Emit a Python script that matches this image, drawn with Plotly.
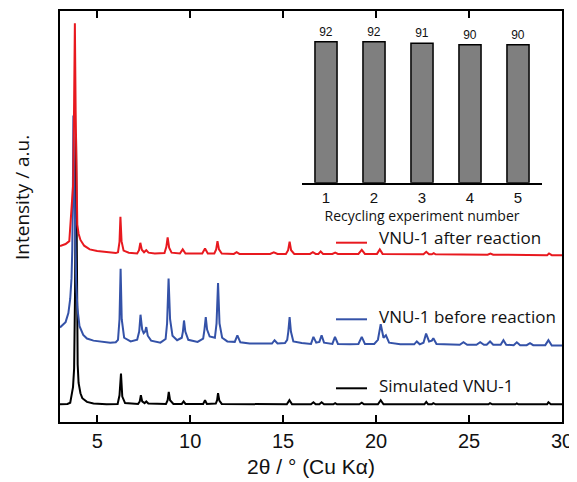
import plotly.graph_objects as go

# ---------------- data ----------------
two_theta_ticks = [5, 10, 15, 20, 25, 30]

red_x = [3.0, 3.3, 3.5, 3.56, 3.61, 3.66, 3.71, 3.76, 3.80, 3.84, 3.88, 3.93, 4.0, 4.1, 4.3, 4.6, 5.0, 5.5, 6.0,
         6.12, 6.2, 6.25, 6.31, 6.42, 6.7, 7.15, 7.25, 7.32, 7.4, 7.52, 7.64, 7.76, 8.1, 8.62, 8.72, 8.79, 8.87,
         9.0, 9.45, 9.6, 9.75, 10.65, 10.8, 10.95, 11.3, 11.4, 11.47, 11.55, 11.7, 12.35, 12.5, 12.65, 14.3, 14.5,
         14.7, 15.15, 15.27, 15.35, 15.43, 15.6, 16.45, 16.6, 16.75, 16.9, 17.02, 17.15, 17.65, 17.8, 17.95, 19.05,
         19.23, 19.4, 20.05, 20.2, 20.35, 22.55, 22.7, 22.85, 23.0, 23.1, 23.2, 26.0, 26.15, 26.3, 29.2, 29.3,
         29.45, 30.0]
red_y = [42.8, 43.3, 44.0, 47.5, 52.5, 54.5, 58.0, 78.0, 97.0, 76.0, 56.0, 48.0, 45.8, 44.3, 42.9, 42.0, 41.6,
         41.3, 41.1, 41.3, 43.8, 49.9, 44.0, 41.7, 41.2, 41.0, 41.8, 43.6, 41.9, 41.3, 41.8, 41.2, 41.0, 41.1,
         42.6, 44.9, 42.4, 41.2, 41.0, 42.0, 41.0, 41.0, 42.2, 41.0, 41.0, 42.0, 44.0, 42.0, 41.0, 40.9, 41.3,
         40.9, 40.9, 41.3, 40.9, 40.9, 41.8, 43.9, 41.8, 40.9, 40.9, 41.3, 40.9, 40.9, 41.5, 40.9, 40.9, 41.2,
         40.9, 40.9, 41.9, 40.9, 40.9, 42.0, 40.9, 40.8, 41.4, 40.8, 40.8, 41.1, 40.8, 40.7, 41.0, 40.7, 40.6,
         41.0, 40.6, 40.6]

blue_x = [3.0, 3.3, 3.45, 3.55, 3.62, 3.66, 3.69, 3.72, 3.76, 3.82, 3.87, 3.93, 4.05, 4.25, 4.45, 4.8, 5.2, 5.7,
          6.0, 6.12, 6.2, 6.26, 6.32, 6.45, 6.8, 7.15, 7.26, 7.33, 7.42, 7.5, 7.58, 7.64, 7.72, 7.9, 8.4, 8.68,
          8.76, 8.84, 8.92, 9.05, 9.3, 9.55, 9.61, 9.67, 9.74, 9.9, 10.4, 10.7, 10.77, 10.84, 10.91, 11.05, 11.33,
          11.42, 11.5, 11.58, 11.72, 12.0, 12.4, 12.54, 12.7, 13.2, 14.0, 14.4, 14.54, 14.7, 15.1, 15.22, 15.28,
          15.35, 15.42, 15.55, 16.0, 16.5, 16.63, 16.78, 16.95, 17.07, 17.2, 17.65, 17.79, 17.95, 18.6, 19.05,
          19.23, 19.4, 19.9, 20.1, 20.25, 20.4, 20.53, 20.7, 21.3, 22.05, 22.19, 22.35, 22.55, 22.69, 22.85, 23.0,
          23.08, 23.25, 24.5, 24.7, 24.9, 25.4, 25.6, 25.8, 25.95, 26.13, 26.3, 26.7, 26.85, 27.0, 27.4, 27.57,
          27.75, 28.1, 28.28, 28.45, 29.1, 29.27, 29.45, 30.0]
blue_y = [23.0, 24.3, 26.5, 30.0, 35.0, 42.0, 55.0, 74.6, 60.0, 42.0, 34.0, 28.0, 23.3, 21.2, 20.3, 19.8, 19.5,
          19.3, 19.4, 20.0, 25.0, 37.3, 25.0, 20.5, 19.6, 20.0, 22.0, 26.1, 22.5, 21.6, 22.0, 23.1, 21.0, 19.8,
          19.3, 20.2, 24.0, 34.9, 25.0, 21.0, 19.9, 20.5, 22.0, 24.7, 22.0, 20.0, 19.5, 20.3, 22.5, 25.5, 22.5,
          20.8, 20.5, 24.0, 33.8, 24.0, 20.5, 19.6, 19.5, 21.1, 19.4, 19.1, 19.1, 19.1, 19.9, 19.1, 19.2, 20.0,
          22.0, 25.5, 22.0, 19.6, 19.2, 19.0, 20.7, 19.3, 19.5, 21.1, 19.3, 19.0, 20.7, 19.0, 18.9, 19.0, 20.7,
          19.0, 19.0, 20.0, 23.8, 20.5, 21.1, 19.3, 18.9, 18.9, 19.6, 18.9, 19.3, 21.5, 19.6, 19.8, 20.4, 19.0,
          18.8, 19.4, 18.8, 18.8, 19.4, 18.8, 18.8, 19.6, 18.8, 18.8, 19.9, 18.8, 18.7, 19.4, 18.7, 18.7, 19.2,
          18.7, 18.7, 19.9, 18.6, 18.6]

black_x = [3.0, 3.4, 3.55, 3.62, 3.7, 3.76, 3.81, 3.86, 3.91, 3.95, 4.0, 4.1, 4.2, 4.45, 4.8, 5.5, 6.1, 6.2, 6.28,
           6.35, 6.5, 7.2, 7.29, 7.35, 7.42, 7.55, 7.64, 7.75, 8.7, 8.79, 8.85, 8.92, 9.1, 9.55, 9.65, 9.75, 10.7,
           10.8, 10.9, 11.38, 11.45, 11.5, 11.57, 11.7, 15.2, 15.34, 15.48, 16.5, 16.63, 16.75, 16.95, 17.07, 17.2,
           17.7, 17.8, 17.9, 19.1, 19.23, 19.35, 20.1, 20.25, 20.4, 22.6, 22.7, 22.8, 23.0, 23.08, 23.2, 26.05,
           26.13, 26.25, 27.5, 27.57, 27.65, 29.2, 29.27, 29.4, 30.0]
black_y = [4.3, 4.4, 4.7, 6.1, 8.5, 13.0, 32.0, 69.8, 32.0, 14.0, 9.5, 7.0, 5.8, 4.9, 4.5, 4.3, 4.4, 6.5, 11.8,
           6.2, 4.6, 4.4, 5.0, 6.5, 5.0, 4.6, 5.0, 4.5, 4.4, 5.3, 7.3, 5.3, 4.4, 4.4, 5.0, 4.4, 4.4, 5.3, 4.4,
           4.5, 5.3, 7.0, 5.2, 4.4, 4.3, 5.3, 4.3, 4.3, 4.8, 4.3, 4.3, 4.8, 4.3, 4.3, 4.6, 4.3, 4.3, 4.7, 4.3,
           4.3, 5.3, 4.3, 4.3, 4.9, 4.3, 4.3, 4.6, 4.3, 4.3, 4.6, 4.3, 4.3, 4.5, 4.3, 4.3, 4.8, 4.3, 4.3]

series_names = ["VNU-1 after reaction", "VNU-1 before reaction", "Simulated VNU-1"]
series_colors = ["#e8191f", "#3452a8", "#000000"]

recycle_runs = [1, 2, 3, 4, 5]
recycle_yield = [92, 92, 91, 90, 90]

# ---------------- figure ----------------
# The page body has a default 8px margin, so the figure starts at (8, 8) on screen.
OFF = 8
W, H = 577, 482
# desired plot area on screen: x 60..562, y 11..422
SX0, SX1, SY0, SY1 = 60, 562, 11, 422
L, T = SX0 - OFF, SY0 - OFF
R, B = W + OFF - SX1, H + OFF - SY1
pw, ph = SX1 - SX0, SY1 - SY0


def px(xs):
    return (xs - SX0) / pw


def py(ys):
    return (SY1 - ys) / ph


fig = go.Figure()

for xs, ys, name, col in [(black_x, black_y, series_names[2], series_colors[2]),
                          (blue_x, blue_y, series_names[1], series_colors[1]),
                          (red_x, red_y, series_names[0], series_colors[0])]:
    fig.add_trace(go.Scatter(x=xs, y=ys, mode="lines", name=name,
                             line=dict(color=col, width=2), showlegend=False))

fig.add_trace(go.Bar(x=recycle_runs, y=recycle_yield, xaxis="x2", yaxis="y2",
                     marker=dict(color="#7f7f7f", line=dict(color="#000000", width=1.5)),
                     width=0.46, text=[str(v) for v in recycle_yield], textposition="outside",
                     textfont=dict(family="Liberation Sans, Arial", size=12, color="#111"),
                     cliponaxis=False, showlegend=False))

fig.update_layout(
    template="none",
    width=W, height=H,
    margin=dict(l=L, r=R, t=T, b=B, autoexpand=False),
    paper_bgcolor="white", plot_bgcolor="white",
    xaxis=dict(range=[3, 30], tickvals=two_theta_ticks, ticks="inside", ticklen=7, tickwidth=1.5,
               tickcolor="black", showline=True, linewidth=2, linecolor="black", mirror="ticks",
               showgrid=False, zeroline=False, automargin=False, ticklabelstandoff=0,
               tickfont=dict(family="Liberation Sans, Arial", size=20, color="#111"),
               title=dict(text="2θ / ° (Cu Kα)", standoff=8,
                          font=dict(family="Liberation Sans, Arial", size=21, color="#111"))),
    yaxis=dict(range=[0, 100], showticklabels=False, ticks="", showline=True, linewidth=2,
               linecolor="black", mirror=True, showgrid=False, zeroline=False, automargin=False),
    xaxis2=dict(domain=[px(302), px(542)], anchor="y2", range=[0.5, 5.5], tickvals=recycle_runs,
                ticks="", showline=True, linewidth=2, linecolor="black", showgrid=False, zeroline=False,
                automargin=False,
                tickfont=dict(family="Liberation Sans, Arial", size=15, color="#111"),
                title=dict(text="Recycling experiment number", standoff=2,
                           font=dict(family="Open Sans", size=14, color="#111"))),
    yaxis2=dict(domain=[py(182.7), py(29.4)], anchor="x2", range=[0, 100], visible=False,
                automargin=False),
    bargap=0.54,
)

# y-axis title
fig.add_annotation(text="Intensity / a.u.", xref="paper", yref="paper", x=px(22), y=py(198),
                   textangle=-90, showarrow=False, xanchor="center", yanchor="middle",
                   font=dict(family="Open Sans", size=19, color="#111"))

# legend entries (line + label)
leg_line_y = [242.7, 319.3, 388.3]
leg_text_y = [237.5, 316.0, 385.0]
for name, col, ly, ty in zip(series_names, series_colors, leg_line_y, leg_text_y):
    fig.add_shape(type="line", xref="paper", yref="paper", x0=px(336), x1=px(367), y0=py(ly), y1=py(ly),
                  line=dict(color=col, width=2))
    fig.add_annotation(text=name, xref="paper", yref="paper", x=px(377), y=py(ty), showarrow=False,
                       xanchor="left", yanchor="middle",
                       font=dict(family="Open Sans", size=17, color="#111"))

fig.write_html("out.html")
